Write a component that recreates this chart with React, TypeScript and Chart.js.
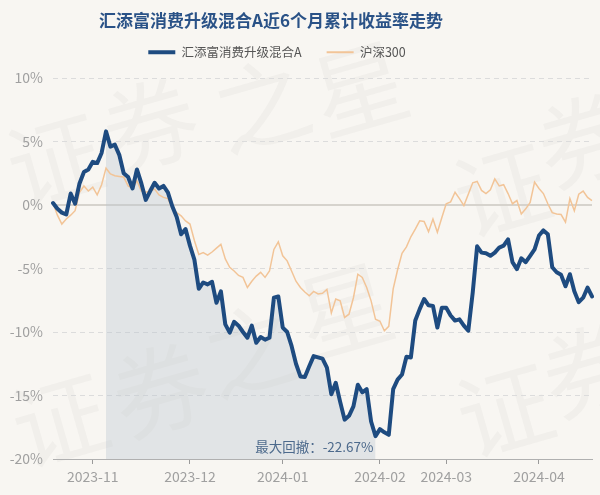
import React, { useEffect, useRef } from 'react';
import { Chart, registerables } from 'chart.js';

Chart.register(...registerables);

// ---------- text ----------
const TITLE = '汇添富消费升级混合A近6个月累计收益率走势';
const FUND_NAME = '汇添富消费升级混合A';
const INDEX_NAME = '沪深300';
const DRAWDOWN_TEXT = '最大回撤：-22.67%';

// ---------- trading days (category labels) ----------
const OCT_2023 = [19, 20, 23, 24, 25, 26, 27, 30, 31];
const NOV_2023 = [1, 2, 3, 6, 7, 8, 9, 10, 13, 14, 15, 16, 17, 20, 21, 22, 23, 24, 27, 28, 29, 30];
const DEC_2023 = [1, 4, 5, 6, 7, 8, 11, 12, 13, 14, 15, 18, 19, 20, 21, 22, 25, 26, 27, 28, 29];
const JAN_2024 = [2, 3, 4, 5, 8, 9, 10, 11, 12, 15, 16, 17, 18, 19, 22, 23, 24, 25, 26, 29, 30, 31];
const FEB_2024 = [1, 2, 5, 6, 7, 8, 19, 20, 21, 22, 23, 26, 27, 28, 29];
const MAR_2024 = [1, 4, 5, 6, 7, 8, 11, 12, 13, 14, 15, 18, 19, 20, 21, 22, 25, 26, 27, 28, 29];
const APR_2024 = [1, 2, 3, 8, 9, 10, 11, 12, 15, 16, 17, 18, 19];

const MONTH_KEYS = ['2023-10', '2023-11', '2023-12', '2024-01', '2024-02', '2024-03', '2024-04'];
const MONTH_DAYS = [OCT_2023, NOV_2023, DEC_2023, JAN_2024, FEB_2024, MAR_2024, APR_2024];

const dates: string[] = [];
MONTH_KEYS.forEach((ym, m) => {
  MONTH_DAYS[m].forEach((d) => dates.push(`${ym}-${String(d).padStart(2, '0')}`));
});

// ---------- series (cumulative return, %) ----------
const fundValues = [
  0.15, -0.3, -0.6, -0.75, 0.9, 0.1, 1.7, 2.6, 2.8, 3.4,
  3.3, 4.1, 5.8, 4.6, 4.75, 3.95, 2.5, 2.2, 1.3, 2.8,
  1.7, 0.4, 1.1, 1.75, 1.3, 1.5, 1.0, -0.1, -0.95, -2.3,
  -1.9, -3.2, -4.3, -6.6, -6.1, -6.25, -6.05, -7.7, -6.8, -9.4,
  -10.05, -9.2, -9.5, -10.0, -10.45, -9.5, -10.85, -10.4, -10.6, -10.45,
  -7.3, -7.2, -9.65, -10.0, -11.1, -12.5, -13.5, -13.55, -12.7, -11.9,
  -12.0, -12.1, -12.8, -14.9, -14.0, -15.5, -16.9, -16.6, -15.85, -14.15,
  -14.75, -14.5, -17.05, -18.2, -17.65, -17.9, -18.1, -14.5, -13.75, -13.35,
  -11.95, -12.0, -9.1, -8.2, -7.4, -7.9, -7.95, -9.65, -8.1, -8.1,
  -8.7, -9.1, -9.0, -9.5, -9.9, -6.9, -3.25, -3.75, -3.8, -4.0,
  -3.75, -3.35, -3.2, -2.7, -4.5, -5.05, -4.2, -4.5, -4.0, -3.5,
  -2.4, -2.0, -2.3, -4.9, -5.3, -5.5, -6.4, -5.45, -6.8, -7.65,
  -7.3, -6.5, -7.2,
];

const hs300Values = [
  0.15, -0.8, -1.5, -1.1, -0.8, -0.45, 1.0, 1.5, 1.1, 1.4,
  0.8, 1.6, 2.9, 2.45, 2.3, 2.25, 2.2, 1.5, 1.3, 1.9,
  1.1, 1.0, 1.1, 1.25, 0.8, 0.6, 0.5, -0.3, -0.6, -0.85,
  -1.25, -1.5, -2.8, -3.9, -3.75, -3.95, -3.7, -3.4, -3.1, -4.25,
  -4.9, -5.2, -5.55, -5.7, -6.5, -6.0, -5.6, -5.3, -5.7, -5.2,
  -3.5, -2.9, -4.0, -4.4, -5.2, -6.0, -6.5, -6.85, -7.15, -6.8,
  -7.0, -6.95, -6.65, -8.5, -7.4, -7.55, -8.85, -8.6, -7.3, -5.45,
  -5.7, -6.5, -7.55, -9.0, -9.15, -9.9, -9.55, -6.6, -5.1, -3.8,
  -3.3, -2.5, -1.9, -1.25, -1.3, -2.1, -1.1, -2.15, -1.0, 0.1,
  0.25, 1.0, 0.5, -0.05, 0.85, 1.75, 1.85, 1.15, 0.9, 1.2,
  2.05, 1.5, 1.6, 0.9, 0.1, 0.35, -0.7, -0.3, 0.2, 1.8,
  1.3, 0.9, 0.1, -0.6, -0.7, -0.75, -1.35, 0.5, -0.45, 0.85,
  1.1, 0.6, 0.35,
];

const yTickValues = [10, 5, 0, -5, -10, -15, -20];

// ---------- styles ----------
const FONT = "'Noto Sans CJK SC', 'Noto Sans', sans-serif";
const BG = '#f8f6f2';
const BLUE = '#1e4b80';
const ORANGE = '#f2c497';
const TITLE_COLOR = '#2a5287';
const LABEL_COLOR = '#a0a0a0';
const WATERMARK_CHARS = ['证', '券', '之', '星', '证', '券', '证', '券', '之', '星', '证', '券'];
const WATERMARK_POS = [
  [55, 160], [150, 125], [262, 105], [360, 88], [502, 190], [585, 140],
  [60, 420], [160, 390], [252, 350], [345, 310], [505, 410], [590, 370],
];

// derived: drawdown peak / trough
const troughIdx = fundValues.indexOf(Math.min(...fundValues));
const peakIdx = fundValues.slice(0, troughIdx + 1).indexOf(Math.max(...fundValues.slice(0, troughIdx + 1)));
const drawdownArea = fundValues.map((v, i) => (i >= peakIdx && i <= troughIdx ? v : null));

const isMonthStart = (i: number) => i > 0 && dates[i] && dates[i].slice(0, 7) !== dates[i - 1].slice(0, 7);

const bgPlugin = {
  id: 'bgAndWatermark',
  beforeDraw(chart: any) {
    const { ctx, width, height } = chart;
    ctx.save();
    ctx.fillStyle = BG;
    ctx.fillRect(0, 0, width, height);
    ctx.fillStyle = 'rgba(100,100,100,0.045)';
    ctx.font = `95px ${FONT}`;
    ctx.textAlign = 'center';
    ctx.textBaseline = 'middle';
    WATERMARK_POS.forEach(([x, y], i) => {
      ctx.save();
      ctx.translate(x, y);
      ctx.rotate((-16 * Math.PI) / 180);
      ctx.fillText(WATERMARK_CHARS[i], 0, 0);
      ctx.restore();
    });
    ctx.restore();
  },
};

const headerPlugin = {
  id: 'headerPlacement',
  beforeInit(chart: any) {
    const legend = chart.legend;
    if (legend) {
      const origFit = legend.fit;
      legend.fit = function () {
        origFit.call(this);
        this.height = 37.6;
      };
    }
  },
  afterLayout(chart: any) {
    const t = chart.titleBlock;
    if (t) {
      t.left -= 25;
      t.right -= 25;
    }
    const l = chart.legend;
    if (l) {
      l.left -= 19;
      l.right -= 19;
      const dy = 21 - l.top;
      l.top += dy;
      l.bottom += dy;
    }
  },
};

const drawdownLabelPlugin = {
  id: 'drawdownLabel',
  afterDatasetsDraw(chart: any) {
    const { ctx } = chart;
    const xs = chart.scales.x;
    const ys = chart.scales.y;
    ctx.save();
    ctx.font = `13.5px ${FONT}`;
    ctx.fillStyle = '#4d6a8c';
    ctx.textAlign = 'right';
    ctx.textBaseline = 'middle';
    ctx.fillText(DRAWDOWN_TEXT, xs.getPixelForValue(troughIdx) - 2, ys.bottom - 12);
    ctx.restore();
  },
};

export default function App() {
  const canvasRef = useRef<HTMLCanvasElement | null>(null);

  useEffect(() => {
    if (!canvasRef.current) return;
    Chart.defaults.font.family = FONT;
    const chart = new Chart(canvasRef.current, {
      type: 'line',
      data: {
        labels: dates,
        datasets: [
          {
            label: FUND_NAME,
            data: fundValues,
            borderColor: BLUE,
            backgroundColor: BLUE,
            borderWidth: 4,
            pointRadius: 0,
            pointHoverRadius: 0,
            tension: 0,
            borderJoinStyle: 'round',
            borderCapStyle: 'round',
            fill: false,
          },
          {
            label: INDEX_NAME,
            data: hs300Values,
            borderColor: ORANGE,
            backgroundColor: ORANGE,
            borderWidth: 1.5,
            pointRadius: 0,
            pointHoverRadius: 0,
            tension: 0,
            fill: false,
          },
          {
            label: 'drawdown',
            data: drawdownArea,
            borderWidth: 0,
            borderColor: 'rgba(0,0,0,0)',
            backgroundColor: 'rgba(185,196,208,0.36)',
            pointRadius: 0,
            pointHoverRadius: 0,
            tension: 0,
            fill: 'start',
            spanGaps: false,
          },
        ],
      },
      options: {
        responsive: false,
        animation: false,
        devicePixelRatio: 1,
        events: [],
        layout: { padding: { left: 0, right: 8, top: 0, bottom: 0 } },
        plugins: {
          title: {
            display: true,
            text: TITLE,
            color: TITLE_COLOR,
            font: { size: 17, weight: 'bold', family: FONT },
            padding: { top: 10, bottom: 10 },
          },
          legend: {
            display: true,
            position: 'top',
            labels: {
              usePointStyle: true,
              pointStyleWidth: 27,
              padding: 25,
              color: '#555555',
              font: { size: 12.5, family: FONT },
              generateLabels: () => [
                {
                  text: FUND_NAME,
                  fillStyle: BLUE,
                  strokeStyle: BLUE,
                  lineWidth: 4,
                  pointStyle: 'line',
                  hidden: false,
                  datasetIndex: 0,
                  fontColor: '#555555',
                },
                {
                  text: INDEX_NAME,
                  fillStyle: ORANGE,
                  strokeStyle: ORANGE,
                  lineWidth: 2,
                  pointStyle: 'line',
                  hidden: false,
                  datasetIndex: 1,
                  fontColor: '#555555',
                },
              ],
            },
          },
          tooltip: { enabled: false },
        },
        scales: {
          x: {
            type: 'category',
            offset: false,
            grid: {
              display: true,
              drawOnChartArea: false,
              drawTicks: true,
              tickLength: 5,
              color: 'rgba(0,0,0,0)',
              tickColor: (ctx: any) => (isMonthStart(ctx.index) ? '#9a9a9a' : 'rgba(0,0,0,0)'),
              tickWidth: 1,
            },
            border: { display: true, color: '#b0b0b0', width: 1 },
            ticks: {
              autoSkip: false,
              maxRotation: 0,
              minRotation: 0,
              padding: 4,
              color: LABEL_COLOR,
              font: { size: 14, family: FONT },
              callback: (_v: any, i: number) => (isMonthStart(i) ? dates[i].slice(0, 7) : ''),
            },
            afterFit: (s: any) => {
              s.height = 36;
            },
          },
          y: {
            min: -20,
            max: 10,
            afterBuildTicks: (s: any) => {
              s.ticks = yTickValues.map((v) => ({ value: v }));
            },
            grid: {
              drawTicks: false,
              color: (ctx: any) =>
                ctx.tick && ctx.tick.value === 0 ? '#d6d3cd' : ctx.tick && ctx.tick.value === -20 ? '#b0b0b0' : '#dcdcdc',
              lineWidth: (ctx: any) => (ctx.tick && ctx.tick.value === 0 ? 2 : 1),
            },
            border: {
              display: false,
              dash: (ctx: any) => (ctx.tick && (ctx.tick.value === 0 || ctx.tick.value === -20) ? [] : [5, 4]),
            },
            ticks: {
              padding: 10,
              color: LABEL_COLOR,
              font: { size: 14, family: FONT },
              callback: (v: any) => `${v}%`,
            },
            afterFit: (s: any) => {
              s.width = 53;
            },
          },
        },
      },
      plugins: [bgPlugin, headerPlugin, drawdownLabelPlugin],
    } as any);
    return () => chart.destroy();
  }, []);

  return (
    <div style={{ position: 'fixed', left: 0, top: 0, width: 600, height: 495, background: BG }}>
      <canvas ref={canvasRef} width={600} height={495} style={{ display: 'block', width: 600, height: 495 }} />
    </div>
  );
}
